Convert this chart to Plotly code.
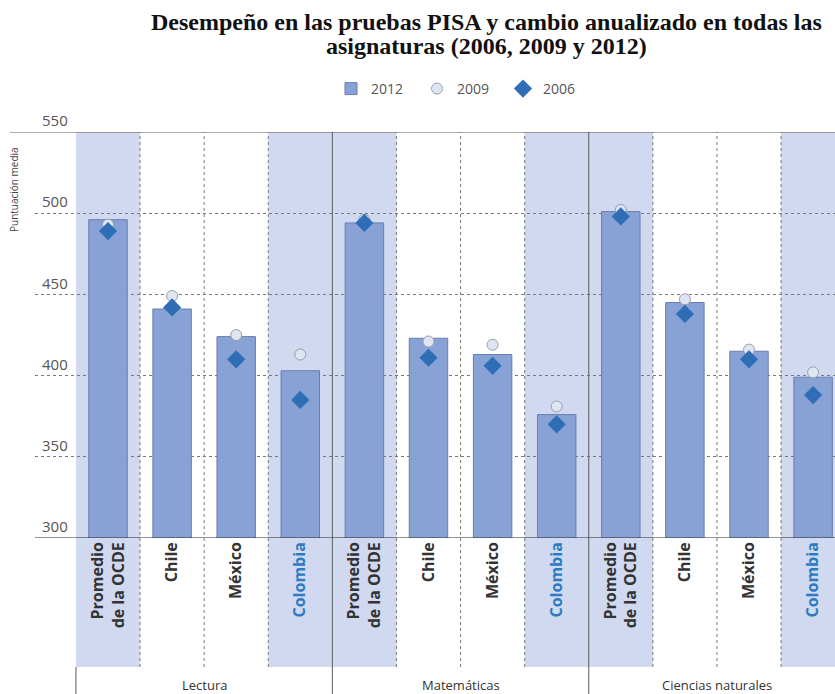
import plotly.graph_objects as go

# ---- data ----
subjects = ["Lectura", "Matemáticas", "Ciencias naturales"]
countries = ["Promedio<br>de la OCDE", "Chile", "México", "Colombia"]
score_2012 = [496, 441, 424, 403, 494, 423, 413, 376, 501, 445, 415, 399]
score_2009 = [493, 449, 425, 413, 496, 421, 419, 381, 502, 447, 416, 402]
score_2006 = [489, 442, 410, 385, 494, 411, 406, 370, 498, 438, 410, 388]
y_ticks = [300, 350, 400, 450, 500, 550]
title_lines = ["Desempeño en las pruebas PISA y cambio anualizado en todas las",
               "asignaturas (2006, 2009 y 2012)"]

n = len(score_2012)
xpos = list(range(n))
labels = []
for s in subjects:
    for c in countries:
        if c == "Colombia":
            labels.append("<b><span style='color:#2f7bc2'>Colombia</span></b>")
        else:
            labels.append("<b>" + c + "</b>")

FONT = "Open Sans"
SHADE = "rgb(208,217,239)"

fig = go.Figure()
fig.add_trace(go.Bar(x=xpos, y=score_2012, name="2012", width=0.6,
                     marker=dict(color="rgb(136,162,213)",
                                 line=dict(color="rgb(105,125,175)", width=1))))
fig.add_trace(go.Scatter(x=xpos, y=score_2009, name="2009", mode="markers",
                         marker=dict(symbol="circle", size=11, color="rgb(224,229,242)",
                                     line=dict(color="rgb(150,158,175)", width=1))))
fig.add_trace(go.Scatter(x=xpos, y=score_2006, name="2006", mode="markers",
                         marker=dict(symbol="diamond", size=14, color="rgb(47,110,182)",
                                     line=dict(width=0))))

plot_h = 694 - 132 - 156
y_shade_bottom = -(667 - 538) / plot_h
y_bottom = -(694 - 538) / plot_h

shapes = []
for i in range(n):
    if i % 4 in (0, 3):
        shapes.append(dict(type="rect", xref="x", yref="paper", x0=i - 0.5, x1=i + 0.5,
                           y0=y_shade_bottom, y1=1, fillcolor=SHADE, line=dict(width=0),
                           layer="below"))
for i in range(n - 1):
    b = i + 0.5
    if (i + 1) % 4 == 0:
        shapes.append(dict(type="line", xref="x", yref="paper", x0=b, x1=b, y0=y_bottom, y1=1,
                           line=dict(color="rgb(90,90,90)", width=1), layer="above"))
    else:
        shapes.append(dict(type="line", xref="x", yref="paper", x0=b, x1=b,
                           y0=y_shade_bottom, y1=1,
                           line=dict(color="rgb(120,120,120)", width=1, dash="dot"),
                           layer="below"))
shapes.append(dict(type="line", xref="x", yref="paper", x0=-0.5, x1=-0.5,
                   y0=y_bottom, y1=y_shade_bottom,
                   line=dict(color="rgb(90,90,90)", width=1)))
shapes.append(dict(type="line", xref="paper", yref="y", x0=-25 / 800, x1=1, y0=550, y1=550,
                   line=dict(color="rgb(90,90,90)", width=1.2)))
shapes.append(dict(type="line", xref="paper", yref="y", x0=0, x1=1, y0=300, y1=300,
                   line=dict(color="rgb(40,40,40)", width=1.2)))

annotations = []
for k, s in enumerate(subjects):
    annotations.append(dict(x=4 * k + 1.5, y=-(685 - 538) / plot_h, xref="x", yref="paper",
                            xanchor="center", yanchor="middle",
                            text=s, showarrow=False,
                            font=dict(family="Liberation Sans Narrow, " + FONT, size=13,
                                      color="#333")))
annotations.append(dict(x=-21 / 800, y=(538 - 190) / plot_h, xref="paper", yref="paper",
                        xanchor="center", yanchor="middle",
                        text="Puntuación media", textangle=-90, showarrow=False,
                        font=dict(family=FONT, size=10, color="#444")))
for k, (t, yy) in enumerate(zip(title_lines, [22, 46])):
    annotations.append(dict(x=(487 - 35) / 800, y=(538 - yy) / plot_h, xref="paper",
                            yref="paper", xanchor="center", yanchor="middle",
                            text="<b>" + t + "</b>", showarrow=False,
                            font=dict(family="Liberation Serif", size=24, color="#111")))

fig.update_layout(
    width=835, height=694,
    margin=dict(l=35, r=0, t=132, b=156),
    paper_bgcolor="white", plot_bgcolor="white",
    showlegend=True,
    legend=dict(orientation="h", x=(331 - 35) / 800, xanchor="left", y=(538 - 89) / plot_h,
                yanchor="middle", font=dict(family=FONT, size=14, color="#555"),
                entrywidth=41, bgcolor="rgba(0,0,0,0)"),
    xaxis=dict(range=[-(108 - 35) / 64.1, (835 - 108) / 64.1], tickvals=xpos, ticktext=labels,
               tickangle=-90, showgrid=False, zeroline=False, showline=False, ticks="",
               automargin=False,
               tickfont=dict(family=FONT, size=16, color="#333")),
    yaxis=dict(range=[300, 550], tickvals=y_ticks, showgrid=True, griddash="dot",
               gridcolor="rgb(120,120,120)", gridwidth=1, zeroline=False, showline=False,
               ticks="", ticklabelposition="inside", ticklabeloverflow="allow",
               ticklabelshift=-11, ticklabelstandoff=4, automargin=False,
               tickfont=dict(family=FONT, size=15, color="#555")),
    shapes=shapes, annotations=annotations, bargap=0.4,
)

fig.write_html("out.html", config={"displayModeBar": False},
               post_script="document.body.style.margin='0px';")
